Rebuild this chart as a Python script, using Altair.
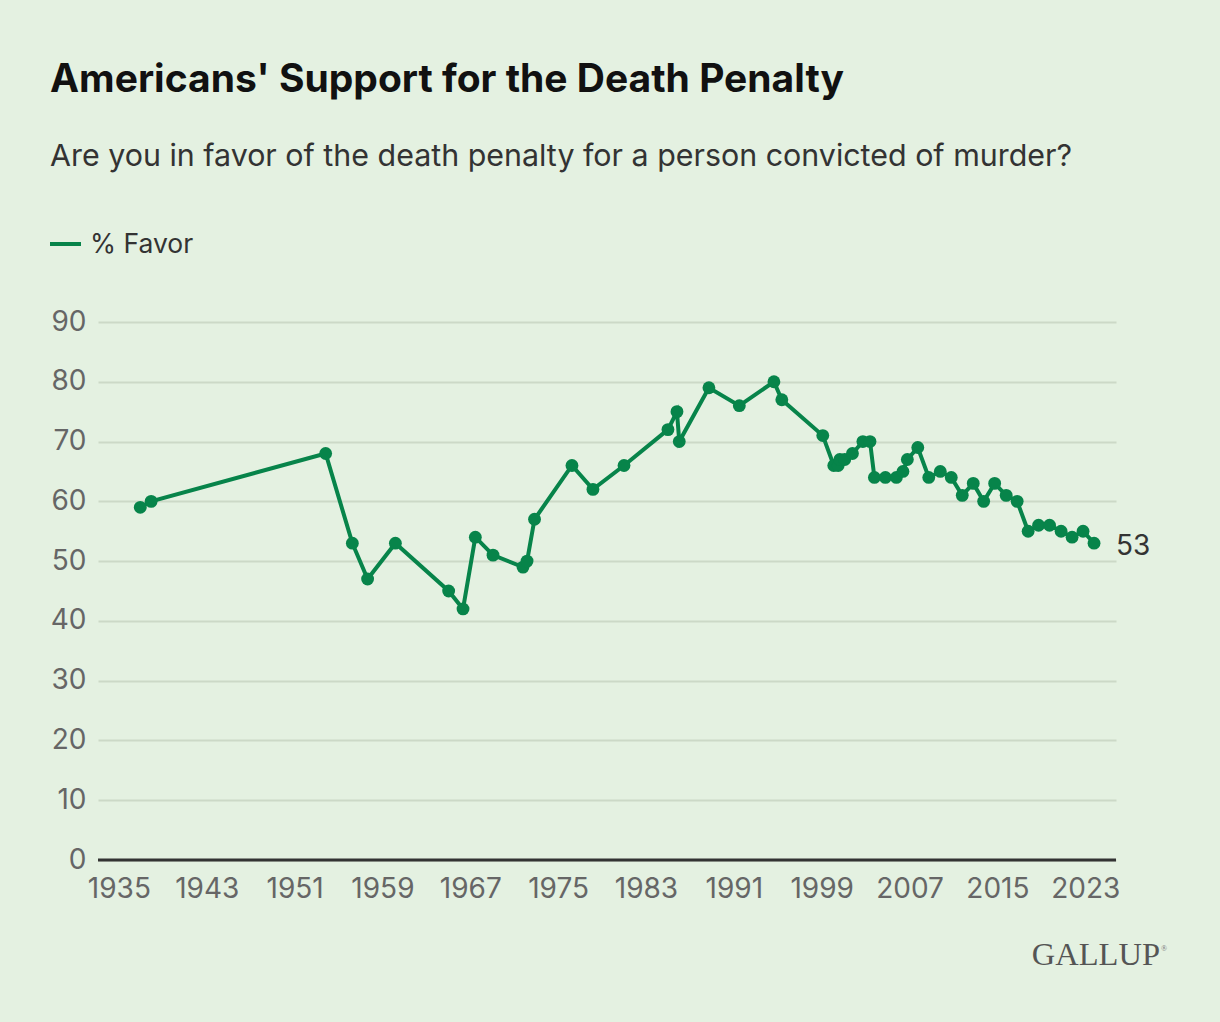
import altair as alt
import pandas as pd

years = [1936.95, 1937.94, 1953.83, 1956.26, 1957.65, 1960.18, 1965.03, 1966.34, 1967.46, 1969.07,
         1971.8, 1972.17, 1972.85, 1976.26, 1978.17, 1981.0, 1985.0, 1985.82, 1986.03, 1988.73,
         1991.5, 1994.65, 1995.37, 1999.1, 2000.1, 2000.5, 2000.65, 2001.1, 2001.8, 2002.75,
         2003.4, 2003.8, 2004.8, 2005.8, 2006.4, 2006.8, 2007.75, 2008.75, 2009.8, 2010.8,
         2011.8, 2012.8, 2013.75, 2014.75, 2015.8, 2016.8, 2017.8, 2018.75, 2019.75, 2020.8,
         2021.8, 2022.8, 2023.8]
favor = [59, 60, 68, 53, 47, 53, 45, 42, 54, 51,
         49, 50, 57, 66, 62, 66, 72, 75, 70, 79,
         76, 80, 77, 71, 66, 66, 67, 67, 68, 70,
         70, 64, 64, 64, 65, 67, 69, 64, 65, 64,
         61, 63, 60, 63, 61, 60, 55, 56, 56, 55,
         54, 55, 53]
x_ticks = [1935, 1943, 1951, 1959, 1967, 1975, 1983, 1991, 1999, 2007, 2015, 2023]
y_ticks = [0, 10, 20, 30, 40, 50, 60, 70, 80, 90]

title_text = "Americans' Support for the Death Penalty"
subtitle_text = "Are you in favor of the death penalty for a person convicted of murder?"
legend_text = "% Favor"
brand_text = "GALLUP"
reg_text = "®"

GREEN = "#07844a"
BG = "#e4f1e1"
FONT = "Inter"

df = pd.DataFrame({"year": years, "favor": favor})
last = df.tail(1)

W, H = 1018, 538

xs = alt.Scale(domain=[1933.1, 2025.8], nice=False, zero=False)
ys = alt.Scale(domain=[0, 90], nice=False)

x_enc = alt.X("year:Q", scale=xs, axis=alt.Axis(values=x_ticks, format="d", title=None, grid=False,
                                                ticks=False, domain=False, labelFontSize=28,
                                                labelColor="#666666", labelPadding=15, labelFont=FONT,
                                                labelOverlap=False, labelFlush=False))
y_enc = alt.Y("favor:Q", scale=ys, axis=alt.Axis(values=y_ticks, title=None, grid=True, gridColor="#ccd9c7",
                                                 gridWidth=2, ticks=False, domain=False, labelFontSize=28,
                                                 labelColor="#666666", labelPadding=12, labelFont=FONT))

base = alt.Chart(df)
line = base.mark_line(color=GREEN, strokeWidth=4).encode(x=x_enc, y=y_enc)
pts = base.mark_circle(color=GREEN, size=165, opacity=1).encode(x="year:Q", y="favor:Q")

zero = alt.Chart(pd.DataFrame({"v": [0]})).mark_rule(color="#333333", strokeWidth=3).encode(y=alt.Y("v:Q", scale=ys))

end_lbl = alt.Chart(last).mark_text(align="left", baseline="middle", dx=22, dy=4, fontSize=28, font=FONT,
                                    color="#333333").encode(x="year:Q", y="favor:Q", text="favor:Q")

title = alt.Chart(pd.DataFrame({"t": [title_text]})).mark_text(
    align="left", baseline="alphabetic", fontSize=39, fontWeight="bold", font=FONT, color="#111111"
).encode(text="t:N", x=alt.value(-48), y=alt.value(-230))

subtitle = alt.Chart(pd.DataFrame({"t": [subtitle_text]})).mark_text(
    align="left", baseline="alphabetic", fontSize=30.4, font=FONT, color="#333333"
).encode(text="t:N", x=alt.value(-48), y=alt.value(-156))

leg_line = alt.Chart(pd.DataFrame({"t": [legend_text]})).mark_rule(color=GREEN, strokeWidth=4).encode(
    x=alt.value(-48), x2=alt.value(-17), y=alt.value(-78))
leg_text = alt.Chart(pd.DataFrame({"t": [legend_text]})).mark_text(
    align="left", baseline="alphabetic", fontSize=26.5, font=FONT, color="#333333"
).encode(text="t:N", x=alt.value(-8), y=alt.value(-69))

brand = alt.Chart(pd.DataFrame({"t": [brand_text]})).mark_text(
    align="right", baseline="alphabetic", fontSize=32.5, font="Liberation Serif", color="#555555"
).encode(text="t:N", x=alt.value(1062), y=alt.value(643))
reg = alt.Chart(pd.DataFrame({"t": [reg_text]})).mark_text(
    align="left", baseline="alphabetic", fontSize=8, font="Liberation Serif", color="#777777"
).encode(text="t:N", x=alt.value(1063), y=alt.value(629))

chart = alt.layer(line, zero, pts, end_lbl, title, subtitle, leg_line, leg_text, brand, reg).properties(
    width=W, height=H,
    padding={"left": 98, "top": 322, "right": 1220 - 98 - W, "bottom": 1022 - 322 - H},
    autosize=alt.AutoSizeParams(type="none"),
    background=BG,
).configure_view(stroke=None)

chart.save("out.html", embed_options={"renderer": "svg", "actions": False})
